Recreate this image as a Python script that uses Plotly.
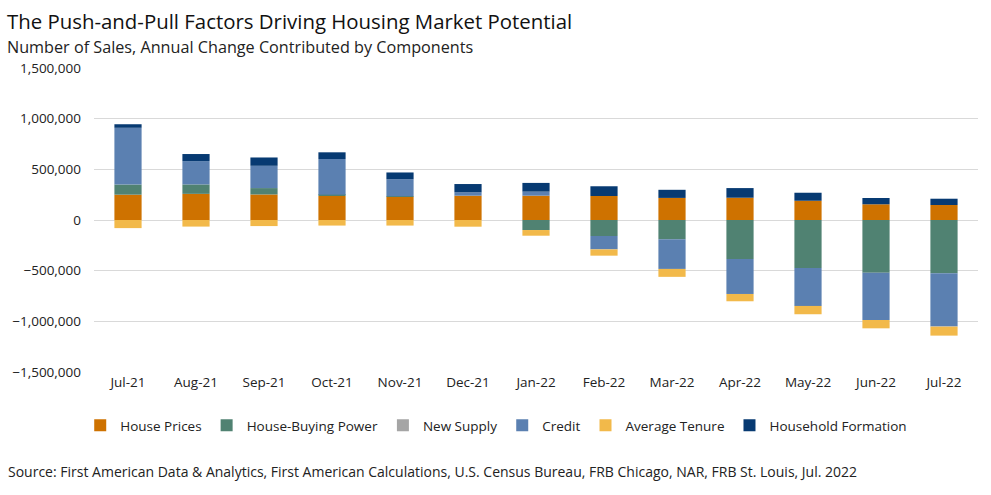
import plotly.graph_objects as go

months = ["Jul-21", "Aug-21", "Sep-21", "Oct-21", "Nov-21", "Dec-21", "Jan-22",
          "Feb-22", "Mar-22", "Apr-22", "May-22", "Jun-22", "Jul-22"]

house_prices = [250000, 258000, 252000, 237000, 230000, 240000, 240000,
                237000, 218000, 220000, 190000, 155000, 148000]
house_buying_power = [100000, 93000, 63000, 13000, 5000, 0, -99000,
                      -158000, -190000, -385000, -473000, -520000, -526000]
new_supply = [0, 0, 0, 0, 0, 0, 0, 0, 0, 0, 0, 0, 0]
credit = [560000, 230000, 220000, 352000, 168000, 33000, 40000,
          -132000, -293000, -345000, -375000, -467000, -526000]
average_tenure = [-80000, -65000, -60000, -55000, -55000, -66000, -56000,
                  -62000, -78000, -72000, -82000, -82000, -89000]
household_formation = [35000, 70000, 82000, 66000, 66000, 82000, 86000,
                       96000, 80000, 95000, 79000, 62000, 62000]

series = [
    ("House Prices", house_prices, "#CE7200"),
    ("House-Buying Power", house_buying_power, "#508272"),
    ("New Supply", new_supply, "#A5A5A5"),
    ("Credit", credit, "#5B80B1"),
    ("Average Tenure", average_tenure, "#F2B94A"),
    ("Household Formation", household_formation, "#073A72"),
]

font_family = "'Open Sans', Lato, sans-serif"

fig = go.Figure()
for name, vals, color in series:
    fig.add_trace(go.Bar(name=name, x=months, y=vals, marker_color=color,
                         marker_line_width=0))

M_L, M_R, M_T, M_B = 90, 13, 68, 123
W, H = 991, 495
plot_h = H - M_T - M_B
plot_w = W - M_L - M_R


def px(xp):
    return (xp - M_L) / plot_w


def py(yp):
    return (H - M_B - yp) / plot_h


fig.update_layout(
    width=W, height=H,
    barmode="relative",
    bargap=0.6,
    plot_bgcolor="white", paper_bgcolor="white",
    font=dict(family=font_family, size=13, color="#222"),
    margin=dict(l=M_L, r=M_R, t=M_T, b=M_B),
    showlegend=True,
    legend=dict(orientation="h", x=0.455, xanchor="center", y=py(410), yanchor="top",
                font=dict(size=13.5, color="#222"), traceorder="normal",
                itemwidth=30),
    xaxis=dict(showgrid=False, showline=False, ticks="", tickfont=dict(size=13.5, color="#222")),
    yaxis=dict(range=[-1500000, 1500000], dtick=500000, tickformat=",",
               gridcolor="#D9D9D9", gridwidth=1, zeroline=True, zerolinecolor="#D9D9D9",
               zerolinewidth=1, showline=False, ticks="", ticklabelstandoff=12,
               tickfont=dict(size=13.5, color="#222")),
)

fig.add_annotation(text="The Push-and-Pull Factors Driving Housing Market Potential",
                   x=px(1), y=py(21), xref="paper", yref="paper", xanchor="left", yanchor="middle",
                   showarrow=False, font=dict(size=20.4, color="#111", family=font_family))
fig.add_annotation(text="Number of Sales, Annual Change Contributed by Components",
                   x=px(1), y=py(47), xref="paper", yref="paper", xanchor="left", yanchor="middle",
                   showarrow=False, font=dict(size=16.2, color="#222", family=font_family))
fig.add_annotation(text="Source: First American Data & Analytics, First American Calculations, U.S. Census Bureau, FRB Chicago, NAR, FRB St. Louis, Jul. 2022",
                   x=px(2), y=py(471), xref="paper", yref="paper", xanchor="left", yanchor="middle",
                   showarrow=False, font=dict(size=14, color="#222", family=font_family))

fig.write_html("out.html")
